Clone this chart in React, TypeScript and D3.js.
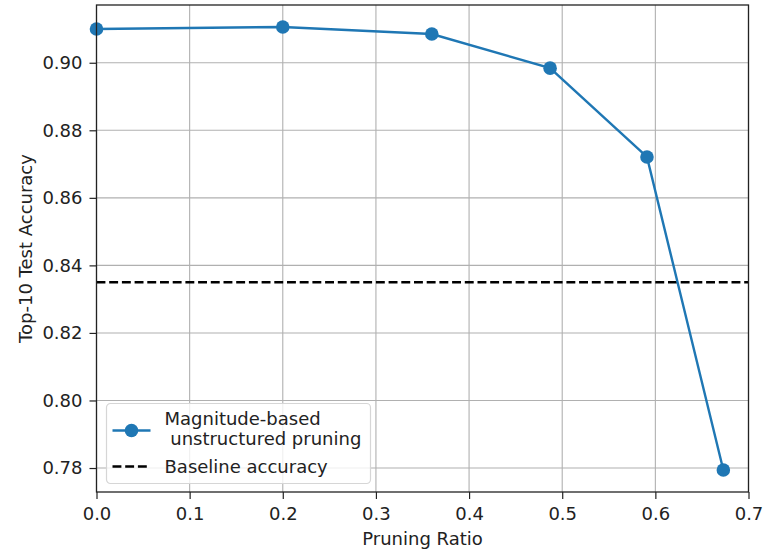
import React, { useEffect, useRef } from 'react';
import * as d3 from 'd3';

const pruningRatio = [0, 0.2, 0.36, 0.487, 0.591, 0.673];
const accuracy = [0.9100, 0.9106, 0.9085, 0.8984, 0.8721, 0.7794];
const baselineAccuracy = 0.835;
const xTicks = [0, 0.1, 0.2, 0.3, 0.4, 0.5, 0.6, 0.7];
const yTicks = [0.78, 0.8, 0.82, 0.84, 0.86, 0.88, 0.9];
const seriesLabel = ['Magnitude-based', ' unstructured pruning'];
const baselineLabel = 'Baseline accuracy';

const svgWidth = 775;
const svgHeight = 551;
const margin = { top: 5, right: 26.5, bottom: 59, left: 96.5 };
const font = 'DejaVu Sans, sans-serif';
const fontSize = 18;
const blue = '#1f77b4';

const App = () => {
  const ref = useRef<SVGSVGElement>(null);

  useEffect(() => {
    const width = svgWidth - margin.left - margin.right;
    const height = svgHeight - margin.top - margin.bottom;
    const svg = d3.select(ref.current);
    svg.selectAll('*').remove();

    const g = svg.append('g').attr('transform', `translate(${margin.left},${margin.top})`);

    const x = d3.scaleLinear().domain([0, 0.7]).range([0, width]);
    const y = d3.scaleLinear().domain([0.7729, 0.9171]).range([height, 0]);

    // grid
    g.selectAll('line.gx').data(xTicks).enter().append('line')
      .attr('x1', d => x(d)).attr('x2', d => x(d))
      .attr('y1', 0).attr('y2', height)
      .attr('stroke', '#b0b0b0').attr('stroke-width', 1.1);
    g.selectAll('line.gy').data(yTicks).enter().append('line')
      .attr('y1', d => y(d)).attr('y2', d => y(d))
      .attr('x1', 0).attr('x2', width)
      .attr('stroke', '#b0b0b0').attr('stroke-width', 1.1);

    // baseline
    g.append('line')
      .attr('x1', 0).attr('x2', width)
      .attr('y1', y(baselineAccuracy)).attr('y2', y(baselineAccuracy))
      .attr('stroke', 'black').attr('stroke-width', 2.3)
      .attr('stroke-dasharray', '8.9,3.8');

    // series
    const line = d3.line<number>().x((d, i) => x(pruningRatio[i])).y(d => y(d));
    g.append('path').datum(accuracy)
      .attr('d', line).attr('fill', 'none')
      .attr('stroke', blue).attr('stroke-width', 2.4);
    g.selectAll('circle.pt').data(accuracy).enter().append('circle')
      .attr('cx', (d, i) => x(pruningRatio[i])).attr('cy', d => y(d))
      .attr('r', 6.8).attr('fill', blue);

    // axes
    const xAxis = g.append('g').attr('transform', `translate(0,${height})`)
      .call(d3.axisBottom(x).tickValues(xTicks).tickFormat(d3.format('.1f')).tickSize(7).tickPadding(8));
    const yAxis = g.append('g')
      .call(d3.axisLeft(y).tickValues(yTicks).tickFormat(d3.format('.2f')).tickSize(7).tickPadding(7));
    [xAxis, yAxis].forEach(a => {
      a.selectAll('.domain').remove();
      a.selectAll('line').attr('stroke', '#222').attr('stroke-width', 1.2);
      a.selectAll('text').attr('font-family', font).attr('font-size', fontSize).attr('fill', '#222');
    });

    // frame
    g.append('rect').attr('width', width).attr('height', height)
      .attr('fill', 'none').attr('stroke', '#222').attr('stroke-width', 1.3);

    // axis labels
    g.append('text').attr('x', width / 2).attr('y', height + 53)
      .attr('text-anchor', 'middle').attr('font-family', font).attr('font-size', fontSize).attr('fill', '#222')
      .text('Pruning Ratio');
    g.append('text').attr('transform', `translate(${-65},${height / 2}) rotate(-90)`)
      .attr('text-anchor', 'middle').attr('font-family', font).attr('font-size', fontSize).attr('fill', '#222')
      .text('Top-10 Test Accuracy');

    // legend
    const lg = g.append('g').attr('transform', `translate(${x(0) + 10},${y(0.8) + 3})`);
    lg.append('rect').attr('width', 264).attr('height', 80).attr('rx', 4)
      .attr('fill', 'white').attr('fill-opacity', 0.8)
      .attr('stroke', '#d6d6d6').attr('stroke-width', 1.2);
    lg.append('line').attr('x1', 6).attr('x2', 44).attr('y1', 27).attr('y2', 27)
      .attr('stroke', blue).attr('stroke-width', 2.4);
    lg.append('circle').attr('cx', 25).attr('cy', 27).attr('r', 6.8).attr('fill', blue);
    lg.append('line').attr('x1', 6).attr('x2', 44).attr('y1', 63).attr('y2', 63)
      .attr('stroke', 'black').attr('stroke-width', 2.3).attr('stroke-dasharray', '8.9,3.8');
    const t = lg.append('text').attr('font-family', font).attr('font-size', fontSize).attr('fill', '#222')
      .attr('xml:space', 'preserve').style('white-space', 'pre');
    seriesLabel.forEach((s, i) => {
      t.append('tspan').attr('x', 58).attr('y', 21.5 + i * 20).text(s);
    });
    lg.append('text').attr('x', 58).attr('y', 69.5)
      .attr('font-family', font).attr('font-size', fontSize).attr('fill', '#222')
      .text(baselineLabel);
  }, []);

  return (
    <svg ref={ref} width={svgWidth} height={svgHeight}
      style={{ position: 'absolute', left: 0, top: 0, background: 'white' }} />
  );
};

export default App;
